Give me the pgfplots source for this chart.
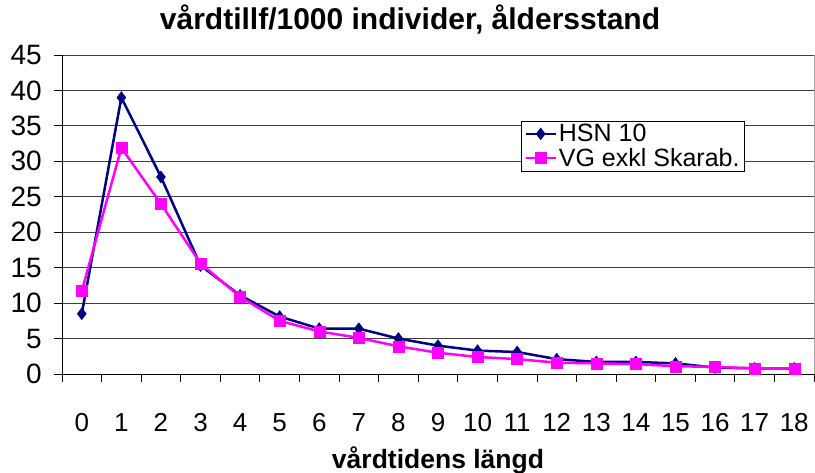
\documentclass[border=0pt]{standalone}
\usepackage{fontspec}
\setmainfont{Liberation Sans}
\usepackage{pgfplots}
\pgfplotsset{compat=1.18}
\definecolor{navyc}{HTML}{000080}
\definecolor{magc}{HTML}{FF00FF}
\begin{document}
\begin{tikzpicture}
\useasboundingbox (-62pt,-98pt) rectangle (753pt,374pt);
\begin{axis}[
  scale only axis, width=752pt, height=319pt,
  xmin=-0.5, xmax=18.5, ymin=0, ymax=45,
  clip=false,
  axis lines*=left,
  axis line style={black, line width=0.8pt},
  ytick={0,5,...,45},
  xtick={0,1,...,18},
  minor xtick={-0.5,0.5,...,18.5},
  major x tick style={draw=none},
  tick align=outside,
  major tick length=8pt, minor tick length=8pt,
  tick style={black, line width=0.8pt},
  ymajorgrids, grid style={black!75, line width=0.8pt},
  /pgf/number format/assume math mode=true,
  yticklabel style={font=\fontsize{28}{32}\selectfont, anchor=east, inner sep=0pt, xshift=-12pt},
  xticklabel style={font=\fontsize{26}{30}\selectfont, anchor=base, inner sep=0pt, yshift=-49pt},
  title={\bfseries vårdtillf/1000 individer, åldersstand},
  title style={font=\fontsize{30}{34}\selectfont, at={(axis description cs:0.4628,1)}, anchor=base, inner sep=0pt, yshift=20pt},
  xlabel={\bfseries vårdtidens längd},
  xlabel style={font=\fontsize{26.5}{30}\selectfont, at={(axis description cs:0.5,0)}, anchor=base, inner sep=0pt, yshift=-94pt},
  legend style={at={(axis description cs:0.6104,0.7931)}, anchor=north west, draw=black, line width=0.8pt, fill=white,
    font=\fontsize{25}{30}\selectfont, inner xsep=3pt, inner ysep=1pt, row sep=1pt, cells={anchor=west}},
  legend image code/.code={\draw[mark repeat=2, mark phase=2] plot coordinates {(0pt,0pt) (15pt,0pt) (30pt,0pt)};},
]
\addplot[navyc, line width=2.5pt, mark=diamond*, mark size=6pt, mark options={line width=0.4pt}] coordinates {
(0,8.5) (1,39.0) (2,27.8) (3,15.3) (4,11.1) (5,8.1) (6,6.4) (7,6.4) (8,5.0) (9,4.0)
(10,3.3) (11,3.1) (12,2.1) (13,1.7) (14,1.7) (15,1.5) (16,0.9) (17,0.8) (18,0.8)};
\addlegendentry{HSN 10}
\addplot[magc, line width=2.5pt, mark=square*, mark size=5.5pt, mark options={line width=0.4pt}] coordinates {
(0,11.7) (1,31.9) (2,24.0) (3,15.6) (4,10.9) (5,7.5) (6,6.0) (7,5.1) (8,3.9) (9,3.0)
(10,2.4) (11,2.1) (12,1.6) (13,1.5) (14,1.4) (15,1.1) (16,1.0) (17,0.8) (18,0.8)};
\addlegendentry{VG exkl Skarab.}
\draw[black!35, line width=0.8pt] (rel axis cs:1,0) -- (rel axis cs:1,1);
\end{axis}
\end{tikzpicture}
\end{document}
